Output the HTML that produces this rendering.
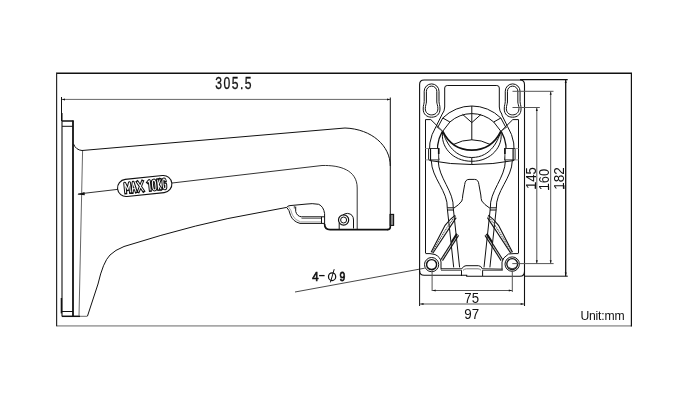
<!DOCTYPE html>
<html><head><meta charset="utf-8">
<style>
html,body{margin:0;padding:0;background:#fff;}
body{width:691px;height:409px;overflow:hidden;}
svg{display:block;will-change:transform;}
text{font-family:"Liberation Sans",sans-serif;fill:#111;}
</style></head>
<body>
<svg width="691" height="409" viewBox="0 0 691 409">
<rect x="0" y="0" width="691" height="409" fill="#fff"/>
<!-- border -->
<g fill="none">
<line x1="56.6" y1="325.9" x2="631.4" y2="325.9" stroke="#a8a8a8" stroke-width="1.7"/>
<line x1="56" y1="73.2" x2="632" y2="73.2" stroke="#111" stroke-width="1.4"/>
<line x1="631.4" y1="73" x2="631.4" y2="326.6" stroke="#111" stroke-width="1.2"/>
<line x1="56.6" y1="73" x2="56.6" y2="326.2" stroke="#2a2a2a" stroke-width="1.2"/>
</g>

<g fill="none" stroke="#111" stroke-width="1">
<!-- ===== SIDE VIEW ===== -->
<!-- dimension 305.5 -->
<line x1="61.5" y1="99.4" x2="390.3" y2="99.4" stroke="#666"/>
<line x1="61.5" y1="97" x2="61.5" y2="121"/>
<line x1="390.3" y1="97.5" x2="390.3" y2="166"/>
<path d="M390.3,214 L390.3,227 Q390.3,229.6 387.5,229.6" stroke-width="1.6"/>
<!-- plate -->
<line x1="62" y1="113" x2="62" y2="316.5" stroke-width="1.1"/>
<line x1="61.4" y1="298" x2="61.4" y2="313.4" stroke-width="1.4"/>
<line x1="73" y1="120.5" x2="73" y2="316.5" stroke-width="1.8"/>
<line x1="62" y1="121" x2="73.5" y2="121" stroke-width="1.5"/>
<line x1="62" y1="126.3" x2="73" y2="126.3"/>
<line x1="62" y1="311.5" x2="73" y2="311.5"/>
<line x1="62" y1="316.3" x2="80" y2="316.3" stroke-width="1.5"/>
<line x1="80" y1="316.3" x2="87.5" y2="316.3" stroke="#666"/>
<line x1="82.6" y1="150" x2="79" y2="316" stroke="#666"/>
<!-- arm top -->
<path d="M73.5,144 Q76,150 82,150.5 L345,128 C372,129 390.3,146 390.3,166 L390.3,214"/>
<!-- arm inner contour -->
<path d="M78,194 L322,165.5 C340,165 357.2,170 357.2,188 L357.2,229" stroke="#333"/>
<!-- base -->
<path d="M324.6,224 Q324.6,229.6 330,229.6 L388,229.6" stroke-width="1.7"/>
<rect x="390.3" y="214.4" width="3.3" height="11" fill="#888" stroke-width="1.1"/>
<!-- arm bottom -->
<path d="M87.5,316 L98,284 Q103,262 110,255 Q115,250 124,246.5 Q200,222.5 258,212.8 L286.7,207.4"/>
<!-- handle -->
<path d="M286.7,207.4 Q287.5,205.8 290,205.6 L306,204.1 Q312,203.1 318.7,204.3 Q323.6,206.5 324.6,213.6 L324.6,224"/>
<path d="M286.7,207.4 Q289.2,209.5 290.6,215.5 Q293,221.5 300,223.4 L324.6,223.4"/>
<path d="M288.6,207 Q291.2,209.5 292.4,215 Q294.6,220 300.5,221.9 L321.5,221.9" stroke="#999" stroke-width="0.9"/>
<path d="M295.7,206.6 L295.7,211.5 Q297,216.4 301.5,216.8 L324.6,216.8"/>
<path d="M301.5,218.3 L321.5,218.3" stroke="#555" stroke-width="0.9"/>
<path d="M321.5,216.8 L321.5,223.4"/>
<path d="M294.3,205.8 L294.3,208.5" stroke="#555"/>
<!-- screw boss -->
<path d="M339.2,229 L339.2,223"/>
<path d="M343,214.9 Q345,213.4 347.5,213.4 Q353.5,214 353.5,220 L353.5,228.5"/>
<circle cx="343.6" cy="220" r="5.1" stroke-width="1.2"/>
<circle cx="343.6" cy="220" r="3" stroke-width="1"/>
<!-- leader arrow -->
<path d="M77.3,194.6 L84.5,192 L84.8,195.2 Z" fill="#111" stroke="none"/>
</g>

<!-- MAX 10KG label -->
<g transform="translate(144.7,186) rotate(-6)">
<rect x="-27.3" y="-8.6" width="54.6" height="17.2" rx="8.6" ry="8.6" fill="#fff" stroke="#111" stroke-width="1.1"/>
<path d="M-19.6,4.9 L-19.6,-4.9 L-17.2,1.8 L-14.8,-4.9 L-14.8,4.9 M-13.1,4.9 L-11.1,-4.9 L-9.1,4.9 M-12.4,1.6 L-9.8,1.6 M-6.9,-4.9 L-1.7,4.9 M-1.7,-4.9 L-6.9,4.9 M3.4,-3.3 L5.1,-4.9 L5.1,4.9 M9.5,-4.9 Q11.1,-4.9 11.1,-1.5 L11.1,1.5 Q11.1,4.9 9.5,4.9 Q7.9,4.9 7.9,1.5 L7.9,-1.5 Q7.9,-4.9 9.5,-4.9 Z M13.5,-4.9 L13.5,4.9 M16.1,-4.9 L13.6,0.3 L16.1,4.9 M21,-2.8 Q21,-4.9 19.8,-4.9 Q18.5,-4.9 18.5,-1.8 L18.5,1.8 Q18.5,4.9 19.8,4.9 Q21,4.9 21,2 L21,0.4 L19.9,0.4" fill="none" stroke="#111" stroke-width="3" stroke-linejoin="round" stroke-linecap="square"/>
<path d="M-19.6,4.9 L-19.6,-4.9 L-17.2,1.8 L-14.8,-4.9 L-14.8,4.9 M-13.1,4.9 L-11.1,-4.9 L-9.1,4.9 M-12.4,1.6 L-9.8,1.6 M-6.9,-4.9 L-1.7,4.9 M-1.7,-4.9 L-6.9,4.9 M3.4,-3.3 L5.1,-4.9 L5.1,4.9 M9.5,-4.9 Q11.1,-4.9 11.1,-1.5 L11.1,1.5 Q11.1,4.9 9.5,4.9 Q7.9,4.9 7.9,1.5 L7.9,-1.5 Q7.9,-4.9 9.5,-4.9 Z M13.5,-4.9 L13.5,4.9 M16.1,-4.9 L13.6,0.3 L16.1,4.9 M21,-2.8 Q21,-4.9 19.8,-4.9 Q18.5,-4.9 18.5,-1.8 L18.5,1.8 Q18.5,4.9 19.8,4.9 Q21,4.9 21,2 L21,0.4 L19.9,0.4" fill="none" stroke="#fff" stroke-width="1" stroke-linejoin="round" stroke-linecap="butt"/>
</g>
<!-- 305.5 text -->
<g transform="translate(215.3,88.7) scale(0.77,1)"><text x="0" y="0" font-size="15.8" textLength="47" lengthAdjust="spacing" stroke="#111" stroke-width="0.3">305.5</text></g>

<!-- 4-phi9 -->
<g fill="none" stroke="#111" stroke-width="1">
<line x1="295" y1="292" x2="424.7" y2="268.2" stroke="#333" stroke-width="0.9"/>
</g>
<g transform="translate(312.2,280.8) scale(0.85,1)"><text x="0" y="0" font-size="13.4" stroke="#111" stroke-width="0.75">4</text></g>
<line x1="319.1" y1="275.6" x2="324.6" y2="275.6" stroke="#111" stroke-width="1.3"/>
<ellipse cx="332.1" cy="276.7" rx="3.6" ry="3.8" fill="none" stroke="#111" stroke-width="1.25"/>
<line x1="334.2" y1="269.2" x2="330.4" y2="282.4" stroke="#111" stroke-width="1"/>
<g transform="translate(339.4,280.8) scale(0.78,1)"><text x="0" y="0" font-size="13.4" stroke="#111" stroke-width="0.75">9</text></g>

<text x="580.4" y="319.9" font-size="12.2" textLength="44.2" lengthAdjust="spacing">Unit:mm</text>

<!-- ===== FRONT VIEW ===== -->
<g fill="none" stroke="#111" stroke-width="1">
<!-- outer plate -->
<path d="M419.6,271.5 L419.6,84.5 Q419.6,80 424.1,80 L520,80 Q524.5,80 524.5,84.5 L524.5,306" stroke-width="1.1"/>
<path d="M524.5,271.5 Q524.5,276.2 520,276.2 L466.7,276.2 L466.7,275.3 L424.1,275.3 Q419.6,275.3 419.6,270.8" stroke-width="1.1"/>
<!-- inner walls -->
<path d="M425.5,253 L425.5,119.6 L430.8,119.6"/>
<path d="M518.5,253 L518.5,119.6 L512.8,119.6"/>
<!-- inner top rect -->
<path d="M441.9,114.6 Q444.7,111 444.7,107 L444.7,88 Q444.7,85.5 447.2,85.5 L496.8,85.5 Q499.3,85.5 499.3,88 L499.3,107 Q499.3,111 502.1,114.6"/>
<!-- keyholes -->
<path d="M424.20000000000005,91.3 A7.4,7.4 0 0 1 439.0,91.3 L439.0,101.5 C439.0,103.8 440.0,105 440.0,109 C440.0,114.3 436.40000000000003,117.2 431.6,117.2 C426.8,117.2 423.20000000000005,114.3 423.20000000000005,109 C423.20000000000005,105 424.20000000000005,103.8 424.20000000000005,101.5 Z" stroke-width="1"/>
<path d="M426.40000000000003,91.3 A5.2,5.2 0 0 1 436.8,91.3 L436.8,102 C436.8,104 437.90000000000003,105.2 437.90000000000003,108.7 C437.90000000000003,112.5 435.20000000000005,114.9 431.6,114.9 C428.0,114.9 425.3,112.5 425.3,108.7 C425.3,105.2 426.40000000000003,104 426.40000000000003,102 Z" stroke-width="1"/>
<path d="M505.25,91.3 A7.4,7.4 0 0 1 520.05,91.3 L520.05,101.5 C520.05,103.8 521.05,105 521.05,109 C521.05,114.3 517.4499999999999,117.2 512.65,117.2 C507.84999999999997,117.2 504.25,114.3 504.25,109 C504.25,105 505.25,103.8 505.25,101.5 Z" stroke-width="1"/>
<path d="M507.45,91.3 A5.2,5.2 0 0 1 517.85,91.3 L517.85,102 C517.85,104 518.9499999999999,105.2 518.9499999999999,108.7 C518.9499999999999,112.5 516.25,114.9 512.65,114.9 C509.04999999999995,114.9 506.34999999999997,112.5 506.34999999999997,108.7 C506.34999999999997,105.2 507.45,104 507.45,102 Z" stroke-width="1"/>
<!-- ring -->
<path d="M430.75,160.6 A42.3,44 0 0 1 436.04,126.5"/>
<path d="M442.77,118.0 A42.3,44 0 0 1 500.83,118.0"/>
<path d="M507.56,126.5 A42.3,44 0 0 1 512.85,160.6"/>
<path d="M438.96,160.5 A34.3,36.4 0 0 1 442.32,131.4" stroke-width="1.3"/>
<path d="M501.28,131.4 A34.3,36.4 0 0 1 504.64,160.5" stroke-width="1.3"/>
<path d="M449.88,122 A34.3,36.4 0 0 1 493.72,122"/>
<line x1="471.8" y1="106" x2="471.8" y2="140"/>
<path d="M462.5,114.3 L471.8,122.6 L481.1,114.3"/>
<!-- clamp diagonal tabs -->
<path d="M430.8,119.6 L442.7,131.3 L449.88,122 L442.77,118.0"/>
<path d="M442,114.5 L436.04,126.5"/>
<path d="M442.77,118.0 L437.64000000000004,127.6"/>
<path d="M436.04,126.5 L442.7,131.3" stroke="#555"/>
<path d="M512.8,119.6 L500.9,131.3 L493.72,122 L500.83,118.0"/>
<path d="M501.6,114.5 L507.56,126.5"/>
<path d="M500.83,118.0 L505.96,127.6"/>
<path d="M507.56,126.5 L500.9,131.3" stroke="#555"/>
<!-- bowl -->
<path d="M442.8,131.4 C445,139 452,157.5 471.8,157.5 C491.6,157.5 498.6,139 500.8,131.4"/>
<path d="M442.8,131.4 C440,146 452,161.3 471.8,161.3 C491.6,161.3 503.6,146 500.8,131.4"/>
<path d="M453,144.6 Q471.8,135 490.6,144.6"/>
<path d="M442.8,131.4 C447,140 455,150.1 471.8,150.1 C488.6,150.1 496.6,140 500.8,131.4" stroke-width="1.7"/>
<!-- bottom arc -->
<path d="M429.5,160.5 Q471.8,168.5 514,160.5"/>
<line x1="471.8" y1="158" x2="471.8" y2="164.5"/>
<!-- tabs -->
<path d="M438.7,148.5 L428.5,148.5 L428.5,159.9 L438.7,159.9 Z" stroke="#333" fill="#fff"/>
<line x1="438.7" y1="148" x2="438.7" y2="154" stroke-width="1.6"/>
<line x1="430.5" y1="148.5" x2="430.5" y2="160.5" stroke-width="1.2"/>
<path d="M425.5,148.5 L428.5,148.5 M425.5,159.9 L428.5,159.9" stroke="#999"/>
<path d="M504.9,148.5 L515.1,148.5 L515.1,159.9 L504.9,159.9 Z" stroke="#333" fill="#fff"/>
<line x1="504.9" y1="148" x2="504.9" y2="154" stroke-width="1.6"/>
<line x1="513.1" y1="148.5" x2="513.1" y2="160.5" stroke-width="1.2"/>
<path d="M518.5,148.5 L515.1,148.5 M518.5,159.9 L515.1,159.9" stroke="#999"/>
<!-- rails -->
<path d="M431.3,160.6 C431.5,177.9 448.2,191.4 447.3,208.4 L453.7,267.4"/>
<path d="M438.2,160.5 C438.4,177.9 454.2,191.4 453.3,208.4 L459.6,267.4"/>
<path d="M512.3,160.6 C512.1,177.9 495.4,191.4 496.3,208.4 L489.9,267.4"/>
<path d="M505.4,160.5 C505.2,177.9 489.4,191.4 490.3,208.4 L484,267.4"/>
<path d="M447.3,207.8 L453.5,207.8 M447.5,210 L453.7,210"/>
<path d="M496.3,207.8 L490.1,207.8 M496.1,210 L489.9,210"/>
<!-- tongue -->
<path d="M453.5,208.4 Q459.5,204.5 461.8,201 Q462.6,199 462.8,195 L464.7,184.5 Q465.2,179.4 469,179.4 L474.6,179.4 Q478.4,179.4 478.9,184.5 L480.8,195 Q481,199 481.8,201 Q484.1,204.5 490.1,208.4"/>
<!-- ribs -->
<path d="M455.3,215.1 Q450.5,218.5 445.1,225.3 L431.1,252.3" stroke-width="1.1"/>
<path d="M456.2,217.6 L432.8,253.3" stroke-width="1.1"/>
<path d="M455.7,216.5 Q450,221 431.9,252.8" stroke="#444" stroke-width="1.1" stroke-dasharray="1.2,0.8"/>
<path d="M457.1,234.1 L440.8,259.7" stroke-width="1.1"/>
<path d="M456.8,233.8 L451.6,242" stroke-width="1.8"/>
<path d="M458.6,235.4 L442.5,260.6" stroke-width="1.1"/>
<path d="M457.8,234.7 L441.6,260.1" stroke="#777" stroke-width="0.8" stroke-dasharray="1,1"/>
<path d="M488.3,215.1 Q493.1,218.5 498.5,225.3 L512.5,252.3" stroke-width="1.1"/>
<path d="M487.4,217.6 L510.8,253.3" stroke-width="1.1"/>
<path d="M487.9,216.5 Q493.6,221.0 511.7,252.8" stroke="#444" stroke-width="1.1" stroke-dasharray="1.2,0.8"/>
<path d="M486.5,234.1 L502.8,259.7" stroke-width="1.1"/>
<path d="M486.8,233.8 L492.0,242.0" stroke-width="1.8"/>
<path d="M485.0,235.4 L501.1,260.6" stroke-width="1.1"/>
<path d="M485.8,234.7 L502.0,260.1" stroke="#777" stroke-width="0.8" stroke-dasharray="1,1"/>
<!-- floor -->
<path d="M441,268.8 L461.8,268.8 Q463.5,265.7 466,265.7 L478.5,265.7 Q481,265.7 482.3,268.8 L502.8,269.2"/>
<path d="M463,270.3 Q464.5,268.8 466.5,268.8 L478,268.8 Q480,268.8 481,270.3" stroke="#777"/>
<path d="M441,270.4 L461.5,270.4 M482.6,270.4 L502.8,270.4" stroke="#666"/>
<path d="M461.5,270.3 L461.5,276 M482.6,270.3 L482.6,276"/>
<!-- bosses around holes -->
<path d="M425.5,253.6 L430,253.6 L435,254.5 Q440.5,257 441,262 L441,269.5"/>
<path d="M518.5,253.6 L514,253.6 L508.5,254 Q502.3,258 502,262 L502,269.5"/>
<circle cx="431.6" cy="264.6" r="7.1"/>
<circle cx="431.6" cy="264.6" r="5" stroke-width="1.4"/>
<path d="M427.8,267.2 Q431.6,270.2 435.4,267.2 L434.8,268.8 Q431.6,270.8 428.4,268.8 Z" fill="#111" stroke="none"/>
<circle cx="512.2" cy="264.1" r="7.2"/>
<circle cx="512.2" cy="264.1" r="5.4" stroke-width="1.3"/>
<path d="M508.2,267.3 Q512.2,270.3 516.2,267.3" stroke-width="1.1" stroke="#444"/>
<!-- dims -->
<line x1="512.5" y1="91.3" x2="553.5" y2="91.3" stroke="#555"/>
<line x1="512.5" y1="107.5" x2="539.8" y2="107.5" stroke="#555"/>
<line x1="520" y1="79.6" x2="567.7" y2="79.6" stroke-width="1.3"/>
<line x1="512.3" y1="263.6" x2="553.6" y2="263.6" stroke="#555"/>
<line x1="524.5" y1="276.2" x2="567.8" y2="276.2"/>
<line x1="536.8" y1="107.5" x2="536.8" y2="263.6" stroke="#555"/>
<line x1="550.7" y1="91.3" x2="550.7" y2="263.6" stroke="#555"/>
<line x1="565.7" y1="79.5" x2="565.7" y2="276.2" stroke-width="1.3"/>
<line x1="419.6" y1="271" x2="419.6" y2="306"/>

<line x1="432.1" y1="270" x2="432.1" y2="291" stroke="#555"/>
<line x1="512.3" y1="270.5" x2="512.3" y2="292" stroke="#555"/>
<line x1="432.1" y1="290.5" x2="512.3" y2="290.5" stroke="#555"/>
<line x1="420" y1="304" x2="524.2" y2="304" stroke="#555"/>
</g>
<!-- arrowheads -->
<g fill="#111" stroke="none">
<path d="M565.7,80 l-1,3 l2,0 z"/>
<path d="M565.7,275.5 l-1,-3 l2,0 z"/>
<path d="M550.7,91.8 l-1,3 l2,0 z"/>
<path d="M550.7,263.2 l-1,-3 l2,0 z"/>
<path d="M536.8,108 l-1,3 l2,0 z"/>
<path d="M536.8,263.2 l-1,-3 l2,0 z"/>
<path d="M62,99.5 l3,-1 l0,2 z"/>
<path d="M390,99.5 l-3,-1 l0,2 z"/>
<path d="M432.6,290.5 l3,-1 l0,2 z"/>
<path d="M511.8,290.5 l-3,-1 l0,2 z"/>
<path d="M420.5,304 l3,-1 l0,2 z"/>
<path d="M523.7,304 l-3,-1 l0,2 z"/>
</g>
<!-- dim texts -->
<text x="471.7" y="302.9" text-anchor="middle" font-size="14.5" textLength="14.7" lengthAdjust="spacingAndGlyphs">75</text>
<text x="471.7" y="318.5" text-anchor="middle" font-size="14.5" textLength="14.9" lengthAdjust="spacingAndGlyphs">97</text>
<text transform="translate(535.9,178.1) rotate(-90)" text-anchor="middle" font-size="14.5" textLength="22" lengthAdjust="spacingAndGlyphs">145</text>
<text transform="translate(549.3,179.6) rotate(-90)" text-anchor="middle" font-size="14.5" textLength="21.4" lengthAdjust="spacingAndGlyphs">160</text>
<text transform="translate(564,178.4) rotate(-90)" text-anchor="middle" font-size="14.5" textLength="22.6" lengthAdjust="spacingAndGlyphs">182</text>
<g stroke="#111" stroke-width="1.1">
<line x1="535.3" y1="185.3" x2="535.3" y2="189"/>
<line x1="548.6" y1="186.4" x2="548.6" y2="190"/>
<line x1="563.9" y1="185.3" x2="563.9" y2="189"/>
</g>
</svg>
</body></html>
